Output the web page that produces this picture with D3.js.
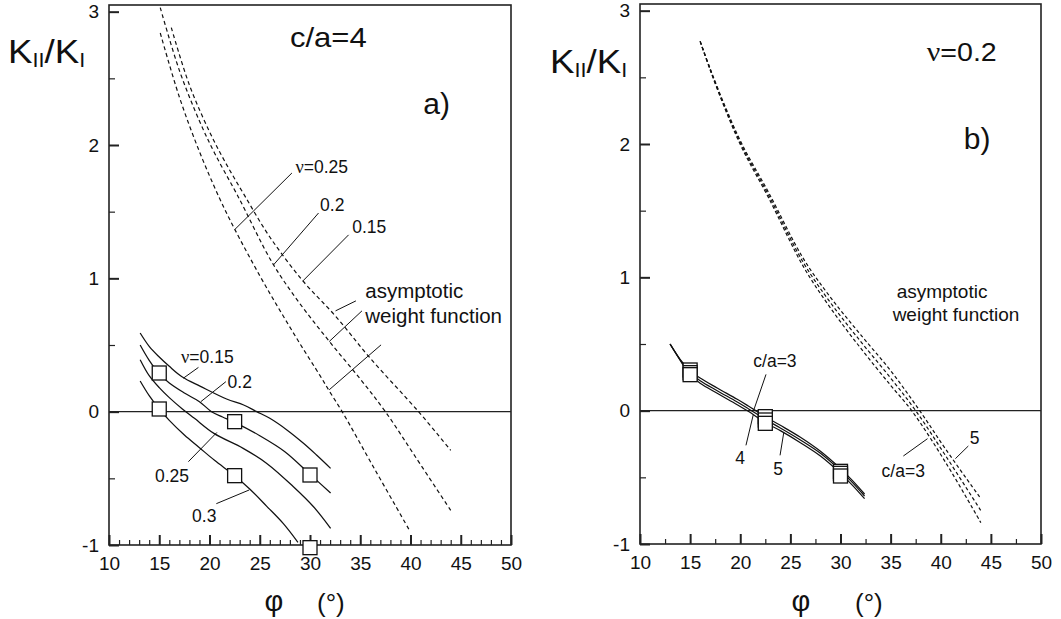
<!DOCTYPE html>
<html>
<head>
<meta charset="utf-8">
<script src="https://cdn.jsdelivr.net/npm/d3@7"></script>
<style>
  body { margin: 0; background: #fff; }
  svg { display: block; }
  text { font-family: "Liberation Sans", Arial, Helvetica, sans-serif; fill: #111; }
</style>
</head>
<body>
<svg id="chart" width="1061" height="619"></svg>
<script>
// ---------- axis ticks ----------
const phiTicks = [10, 15, 20, 25, 30, 35, 40, 45, 50];
const kTicks = [-1, 0, 1, 2, 3];
const kMinor = [-0.5, 0.5, 1.5, 2.5];
const phiMinorA = [11, 12, 13, 14, 16, 17, 18, 19, 21, 22, 23, 24, 26, 27, 28, 29,
                   31, 32, 33, 34, 36, 37, 38, 39, 41, 42, 43, 44, 46, 47, 48, 49];
const phiMinorB = [12.5, 17.5, 22.5, 27.5, 32.5, 37.5, 42.5, 47.5];

// ---------- panel a) c/a = 4 : weight function solution (solid) ----------
const solidNu015 = [[13.1,0.59],[14,0.49],[15,0.41],[16,0.34],[17.3,0.26],[19.1,0.19],[21.7,0.095],
                    [23.4,0.05],[24.7,0],[26,-0.05],[27.7,-0.137],[29.35,-0.237],[30.65,-0.325],[32.05,-0.425]];
const solidNu02  = [[13.1,0.5],[14,0.385],[15,0.285],[16,0.215],[17.5,0.14],[19,0.075],[20.2,0.0],
                    [21.3,-0.04],[22.5,-0.08],[25,-0.18],[27.5,-0.3],[30,-0.47],[32.05,-0.61]];
const solidNu025 = [[13.1,0.39],[14,0.27],[15,0.18],[16,0.105],[17.3,0.02],[18.5,-0.05],[20.44,-0.163],
                    [23.35,-0.275],[25.7,-0.388],[28.35,-0.563],[30.35,-0.713],[32.05,-0.875]];
const solidNu03  = [[13.1,0.23],[14,0.12],[15,0.02],[16,-0.065],[17.5,-0.175],[19,-0.27],[20.5,-0.365],
                    [22.5,-0.48],[24,-0.58],[25.7,-0.71],[27.35,-0.84],[28.8,-0.98]];
const pointsNu02 = [[15,0.29],[22.5,-0.075],[30,-0.475]];
const pointsNu03 = [[15,0.02],[22.5,-0.48],[30,-1.02]];

// ---------- panel a) asymptotic weight function (dashed) ----------
const asymNu025 = [[15.1,2.84],[17,2.36],[19,1.95],[21,1.6],[22.5,1.37],[25,1.02],[27,0.76],[29,0.51],
                   [31,0.27],[32,0.145],[33.2,0.0],[36.5,-0.44],[39.9,-0.89]];
const asymNu02  = [[15.1,3.03],[17,2.56],[19,2.18],[20.5,1.94],[22.8,1.62],[26.3,1.11],[29,0.81],
                   [32,0.52],[35,0.245],[37.5,0],[40.5,-0.34],[44,-0.74]];
const asymNu015 = [[16.2,2.88],[18,2.45],[20,2.1],[21.5,1.88],[23.5,1.62],[26,1.31],[29.3,0.98],
                   [32.5,0.72],[36,0.40],[40.8,0],[44,-0.29]];

// ---------- panel b) nu = 0.2 : weight function solution (solid) ----------
const solidCa3 = [[13.0,0.50],[14.2,0.365],[15,0.30],[16,0.245],[17.7,0.17],[19.7,0.085],[20.8,0.035],
                  [22.5,-0.045],[24,-0.11],[26,-0.20],[28,-0.305],[30,-0.435],[31.2,-0.525],[32.4,-0.625]];
const solidCa4 = [[13.0,0.50],[14.2,0.36],[15,0.285],[16,0.225],[17.7,0.15],[19.7,0.065],[20.8,0.015],
                  [22.5,-0.065],[24,-0.13],[26,-0.22],[28,-0.32],[30,-0.45],[31.2,-0.54],[32.4,-0.64]];
const solidCa5 = [[13.0,0.50],[14.2,0.355],[15,0.27],[16,0.205],[17.7,0.13],[19.7,0.045],[20.8,-0.005],
                  [22.5,-0.09],[24,-0.15],[26,-0.24],[28,-0.34],[30,-0.47],[31.2,-0.56],[32.4,-0.66]];
const pointsCa3 = [[15,0.305],[22.5,-0.045],[30,-0.455]];
const pointsCa4 = [[15,0.285],[22.5,-0.07],[30,-0.47]];
const pointsCa5 = [[15,0.27],[22.5,-0.095],[30,-0.49]];

// ---------- panel b) asymptotic weight function (dashed) ----------
const asymCa3 = [[16,2.77],[17,2.555],[18.5,2.26],[20.2,1.965],[22.8,1.60],[26.3,1.08],[29,0.77],
                 [32,0.47],[35,0.19],[37.1,0],[40.5,-0.39],[44,-0.84]];
const asymCa4 = [[16,2.77],[17,2.56],[18.5,2.27],[20.2,1.98],[22.8,1.62],[26.3,1.11],[29,0.81],
                 [32,0.52],[35,0.245],[37.5,0],[40.5,-0.34],[44,-0.75]];
const asymCa5 = [[16,2.77],[17,2.565],[18.5,2.28],[20.2,1.995],[22.8,1.64],[26.3,1.14],[29,0.85],
                 [32,0.57],[35,0.30],[37.9,0],[40.5,-0.29],[44,-0.66]];

// ---------- annotations (in data units: phi, K_II/K_I) ----------
const labelsA = [
  { t: "ν=0.25", x: 28.55, y: 1.79 },
  { t: "0.2", x: 31.0, y: 1.507 },
  { t: "0.15", x: 34.2, y: 1.342 },
  { t: "asymptotic", x: 35.5, y: 0.85, size: 20.5 },
  { t: "weight function", x: 35.5, y: 0.665, size: 20.5 },
  { t: "ν=0.15", x: 17.17, y: 0.366 },
  { t: "0.2", x: 21.8, y: 0.178 },
  { t: "0.25", x: 14.58, y: -0.527 },
  { t: "0.3", x: 18.27, y: -0.828 }
];
const leadersA = [
  [[28.2,1.79],[22.5,1.365]],
  [[30.85,1.49],[26.36,1.10]],
  [[33.84,1.326],[29.3,0.981]],
  [[34.57,0.831],[32.54,0.756]],
  [[35.17,0.756],[31.91,0.526]],
  [[37.07,0.501],[31.91,0.164]],
  [[18.9,0.332],[17.4,0.251]],
  [[21.63,0.225],[19.14,0.075]],
  [[20.73,-0.156],[17.9,-0.375]],
  [[23.96,-0.587],[20.68,-0.69]]
];
const labelsB = [
  { t: "asymptotic", x: 35.6, y: 0.845, size: 19 },
  { t: "weight function", x: 35.2, y: 0.67, size: 19 },
  { t: "c/a=3", x: 21.3, y: 0.327 },
  { t: "4", x: 19.5, y: -0.40 },
  { t: "5", x: 23.3, y: -0.48 },
  { t: "5", x: 42.9, y: -0.25 },
  { t: "c/a=3", x: 34.1, y: -0.50 }
];
const leadersB = [
  [[22.57,0.272],[21.37,0.009]],
  [[20.57,-0.26],[21.3,-0.03]],
  [[23.97,-0.335],[24.34,-0.165]],
  [[36.27,-0.34],[38.68,-0.21]],
  [[42.75,-0.265],[41.46,-0.36]]
];

const svg = d3.select("#chart");
const ink = "#111";

const line = (xs, ys) => d3.line().x(d => xs(d[0])).y(d => ys(d[1])).curve(d3.curveCatmullRom.alpha(0.5));

function greekText(t, str, size) {
  if (str.startsWith("ν")) {
    t.append("tspan").attr("font-family", "Liberation Serif, Times New Roman, serif")
      .attr("font-size", size * 1.05).text("ν");
    t.append("tspan").text(str.slice(1));
  } else {
    t.text(str);
  }
}

function drawPanel(opts) {
  const { xs, ys, minorX } = opts;
  const g = svg.append("g");
  const [x0, x1] = xs.range();
  const [yb, yt] = ys.range();

  // frame
  g.append("rect").attr("x", x0).attr("y", yt).attr("width", x1 - x0).attr("height", yb - yt)
    .attr("fill", "none").attr("stroke", "#222").attr("stroke-width", 1.6);
  // K_II/K_I = 0 reference line
  g.append("line").attr("x1", x0).attr("x2", x1).attr("y1", ys(0)).attr("y2", ys(0))
    .attr("stroke", "#222").attr("stroke-width", 1.3);

  const fmt = d => String(d);
  // minor ticks (inward)
  g.append("g").attr("transform", `translate(0,${yb})`)
    .call(d3.axisBottom(xs).tickValues(minorX).tickSizeInner(-5).tickSizeOuter(0).tickFormat(""))
    .call(a => a.select(".domain").remove())
    .selectAll("line").attr("stroke", "#222").attr("stroke-width", 1.2);
  g.append("g").attr("transform", `translate(${x0},0)`)
    .call(d3.axisLeft(ys).tickValues(kMinor).tickSizeInner(-6).tickSizeOuter(0).tickFormat(""))
    .call(a => a.select(".domain").remove())
    .selectAll("line").attr("stroke", "#222").attr("stroke-width", 1.2);
  // major ticks + labels
  const ax = g.append("g").attr("transform", `translate(0,${yb})`)
    .call(d3.axisBottom(xs).tickValues(phiTicks).tickSizeInner(-10).tickSizeOuter(0).tickPadding(12).tickFormat(fmt));
  ax.select(".domain").remove();
  ax.selectAll("line").attr("stroke", "#222").attr("stroke-width", 2);
  ax.selectAll("text").attr("font-size", 19).attr("font-family", "Liberation Sans, Arial, sans-serif").attr("fill", ink);
  const ay = g.append("g").attr("transform", `translate(${x0},0)`)
    .call(d3.axisLeft(ys).tickValues(kTicks).tickSizeInner(-10).tickSizeOuter(0).tickPadding(10).tickFormat(fmt));
  ay.select(".domain").remove();
  ay.selectAll("line").attr("stroke", "#222").attr("stroke-width", 2);
  ay.selectAll("text").attr("font-size", 19).attr("font-family", "Liberation Sans, Arial, sans-serif").attr("fill", ink);

  // curves
  const mk = line(xs, ys);
  opts.dashed.forEach(s => g.append("path").attr("d", mk(s)).attr("fill", "none")
    .attr("stroke", ink).attr("stroke-width", 1.2).attr("stroke-dasharray", opts.dash));
  opts.solid.forEach(s => g.append("path").attr("d", mk(s)).attr("fill", "none")
    .attr("stroke", ink).attr("stroke-width", 1.25));

  // leader lines
  opts.leaders.forEach(l => g.append("line")
    .attr("x1", xs(l[0][0])).attr("y1", ys(l[0][1])).attr("x2", xs(l[1][0])).attr("y2", ys(l[1][1]))
    .attr("stroke", ink).attr("stroke-width", 1));

  // square markers
  const sq = 14;
  opts.points.forEach(set => g.append("g").selectAll("rect").data(set).join("rect")
    .attr("x", d => xs(d[0]) - sq / 2).attr("y", d => ys(d[1]) - sq / 2)
    .attr("width", sq).attr("height", sq)
    .attr("fill", "#fff").attr("stroke", ink).attr("stroke-width", 1.3));

  // annotation labels
  opts.labels.forEach(l => {
    const size = l.size || 17.5;
    const t = g.append("text").attr("x", xs(l.x)).attr("y", ys(l.y)).attr("font-size", size);
    greekText(t, l.t, size);
  });

  // axis titles
  const yt1 = g.append("text").attr("transform", `translate(${opts.ytX},${opts.ytY}) scale(1.08,1)`);
  yt1.append("tspan").attr("font-size", 34).text("K");
  yt1.append("tspan").attr("font-size", 20).attr("dy", 4).text("II");
  yt1.append("tspan").attr("font-size", 34).attr("dy", -4).text("/K");
  yt1.append("tspan").attr("font-size", 20).attr("dy", 4).text("I");

  g.append("text").attr("x", opts.phiX).attr("y", 611).attr("text-anchor", "middle")
    .attr("font-family", "Liberation Serif, Times New Roman, serif").attr("font-size", 29).text("φ");
  g.append("text").attr("x", opts.degX).attr("y", 612).attr("font-size", 26).text("(°)");

  // panel captions
  opts.captions.forEach(c => {
    const t = g.append("text").attr("transform", `translate(${c.x},${c.y}) scale(${c.sx || 1},1)`)
      .attr("font-size", c.size);
    greekText(t, c.t, c.size);
  });
}

const xA = d3.scaleLinear().domain([10, 50]).range([109, 511]);
const yA = d3.scaleLinear().domain([-1, 3.05]).range([545, 5]);
const xB = d3.scaleLinear().domain([10, 50]).range([640, 1041]);
const yB = d3.scaleLinear().domain([-1, 3.05]).range([544, 4]);

drawPanel({
  xs: xA, ys: yA, minorX: phiMinorA, dash: "4,3",
  dashed: [asymNu025, asymNu02, asymNu015],
  solid: [solidNu015, solidNu02, solidNu025, solidNu03],
  points: [pointsNu02, pointsNu03],
  leaders: leadersA, labels: labelsA,
  ytX: 8, ytY: 63, phiX: 274, degX: 317,
  captions: [
    { t: "c/a=4", x: xA(28.0), y: yA(2.737), size: 27, sx: 1.15 },
    { t: "a)", x: xA(41.27), y: yA(2.234), size: 30 }
  ]
});

drawPanel({
  xs: xB, ys: yB, minorX: phiMinorB, dash: "3.5,2.5",
  dashed: [asymCa3, asymCa4, asymCa5],
  solid: [solidCa3, solidCa4, solidCa5],
  points: [pointsCa3, pointsCa4, pointsCa5],
  leaders: leadersB, labels: labelsB,
  ytX: 550, ytY: 73, phiX: 801, degX: 855,
  captions: [
    { t: "ν=0.2", x: xB(38.6), y: yB(2.62), size: 26, sx: 1.1 },
    { t: "b)", x: xB(42.3), y: yB(1.96), size: 30 }
  ]
});
</script>
</body>
</html>
